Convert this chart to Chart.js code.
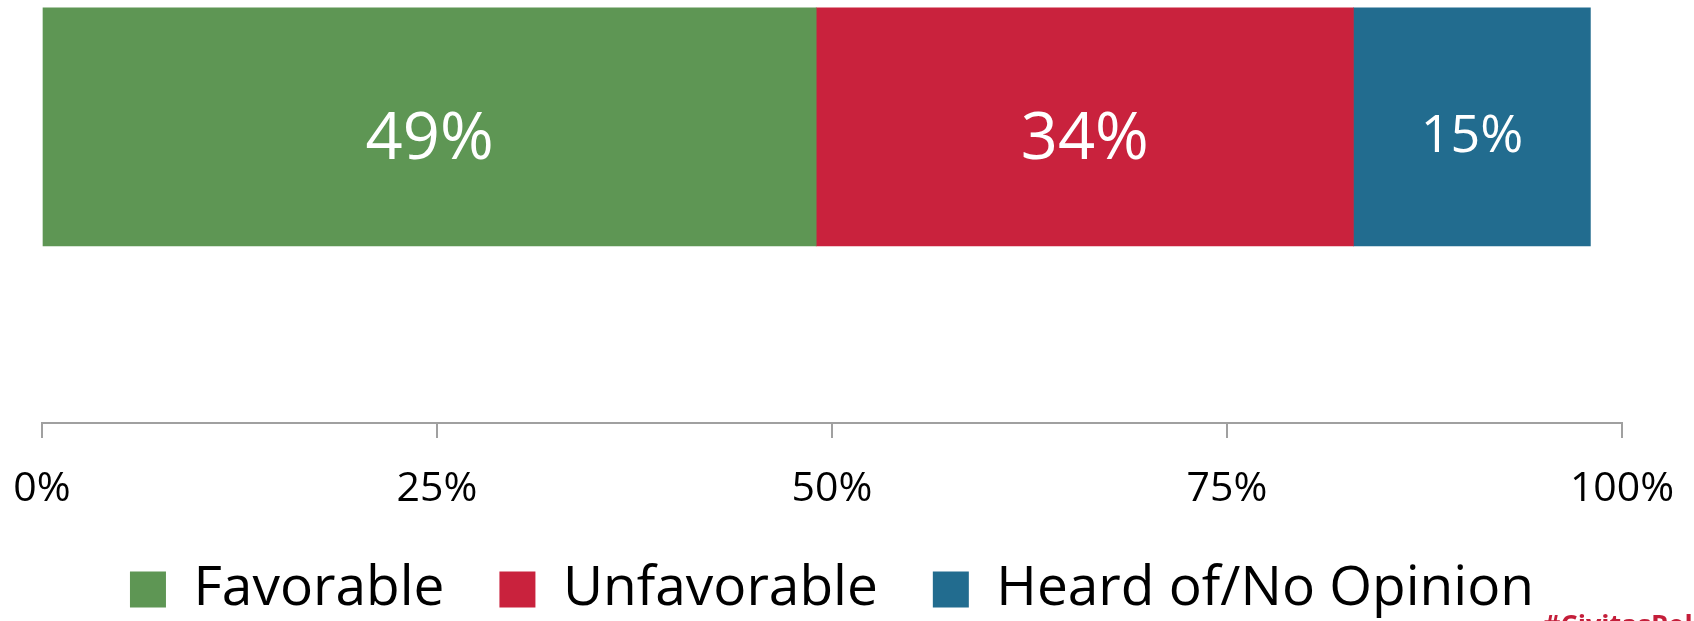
<!DOCTYPE html>
<html lang="en">
<head>
    <meta charset="UTF-8">
    <title>Favorable / Unfavorable</title>
    <script src="https://cdn.jsdelivr.net/npm/chart.js"></script>
    <style>
        body {
            margin: 0;
            background: #fff;
            overflow: hidden;
        }
        .wrap {
            position: relative;
            width: 1694px;
            height: 621px;
            overflow: hidden;
        }
        .tag {
            position: absolute;
            left: 1543px;
            top: 605px;
            font-family: 'Open Sans', sans-serif;
            font-weight: bold;
            font-size: 27px;
            line-height: normal;
            color: #c41e3a;
            white-space: nowrap;
        }
    </style>
</head>
<body>
    <div class="wrap">
        <canvas id="favChart" width="1694" height="621"></canvas>
        <div class="tag">#CivitasPoll</div>
    </div>

    <script>
        // data
        const rowIndex = [0];
        const seriesNames = ['Favorable', 'Unfavorable', 'Heard of/No Opinion'];
        const favorable = [49];
        const unfavorable = [34];
        const noOpinion = [15];
        const tickStep = 25;

        const seriesColors = ['#5e9654', '#c9223d', '#226c8f'];
        const labelFontSizes = [65, 65, 52];

        Chart.defaults.font.family = "'Open Sans', sans-serif";
        Chart.defaults.color = '#000';

        function toPoints(values) {
            return rowIndex.map((r, i) => ({ x: values[i], y: r }));
        }

        // white % labels in the middle of each segment
        const barLabels = {
            id: 'barLabels',
            afterDatasetsDraw(chart) {
                const ctx = chart.ctx;
                ctx.save();
                ctx.fillStyle = '#fff';
                ctx.textAlign = 'center';
                ctx.textBaseline = 'alphabetic';
                chart.data.datasets.forEach((ds, di) => {
                    const meta = chart.getDatasetMeta(di);
                    const size = labelFontSizes[di];
                    ctx.font = size + "px 'Open Sans', sans-serif";
                    meta.data.forEach((bar, i) => {
                        const cx = (bar.x + bar.base) / 2;
                        ctx.fillText(ds.data[i].x + '%', cx, bar.y + size * 0.49);
                    });
                });
                ctx.restore();
            }
        };

        const ctx = document.getElementById('favChart').getContext('2d');
        const chart = new Chart(ctx, {
            type: 'bar',
            data: {
                datasets: [
                    { label: seriesNames[0], data: toPoints(favorable), backgroundColor: seriesColors[0] },
                    { label: seriesNames[1], data: toPoints(unfavorable), backgroundColor: seriesColors[1] },
                    { label: seriesNames[2], data: toPoints(noOpinion), backgroundColor: seriesColors[2] }
                ]
            },
            options: {
                indexAxis: 'y',
                responsive: false,
                animation: false,
                barThickness: 238,
                layout: {
                    padding: { left: 42, right: 72, top: 0, bottom: 0 }
                },
                scales: {
                    x: {
                        stacked: true,
                        min: 0,
                        max: 100,
                        ticks: {
                            stepSize: tickStep,
                            padding: 31,
                            font: { size: 41, lineHeight: 1 },
                            color: '#000',
                            maxRotation: 0,
                            callback: v => v + '%'
                        },
                        grid: {
                            drawOnChartArea: false,
                            drawTicks: true,
                            tickLength: 15,
                            color: '#a0a0a0',
                            lineWidth: 2
                        },
                        border: { display: true, color: '#a0a0a0', width: 2 },
                        // keep the edge labels from pushing the plot inwards
                        afterFit: scale => {
                            scale.paddingLeft = 0;
                            scale.paddingRight = 0;
                            scale.height = 84;
                        }
                    },
                    y: {
                        type: 'linear',
                        stacked: true,
                        reverse: true,
                        offset: false,
                        min: -0.3,
                        max: 0.7,
                        display: false
                    }
                },
                plugins: {
                    tooltip: { enabled: false },
                    legend: {
                        position: 'bottom',
                        maxHeight: 114,
                        labels: {
                            boxWidth: 36,
                            boxHeight: 36,
                            padding: 55,
                            color: '#000',
                            font: { size: 55 }
                        }
                    }
                }
            },
            plugins: [barLabels]
        });
    </script>
</body>
</html>
